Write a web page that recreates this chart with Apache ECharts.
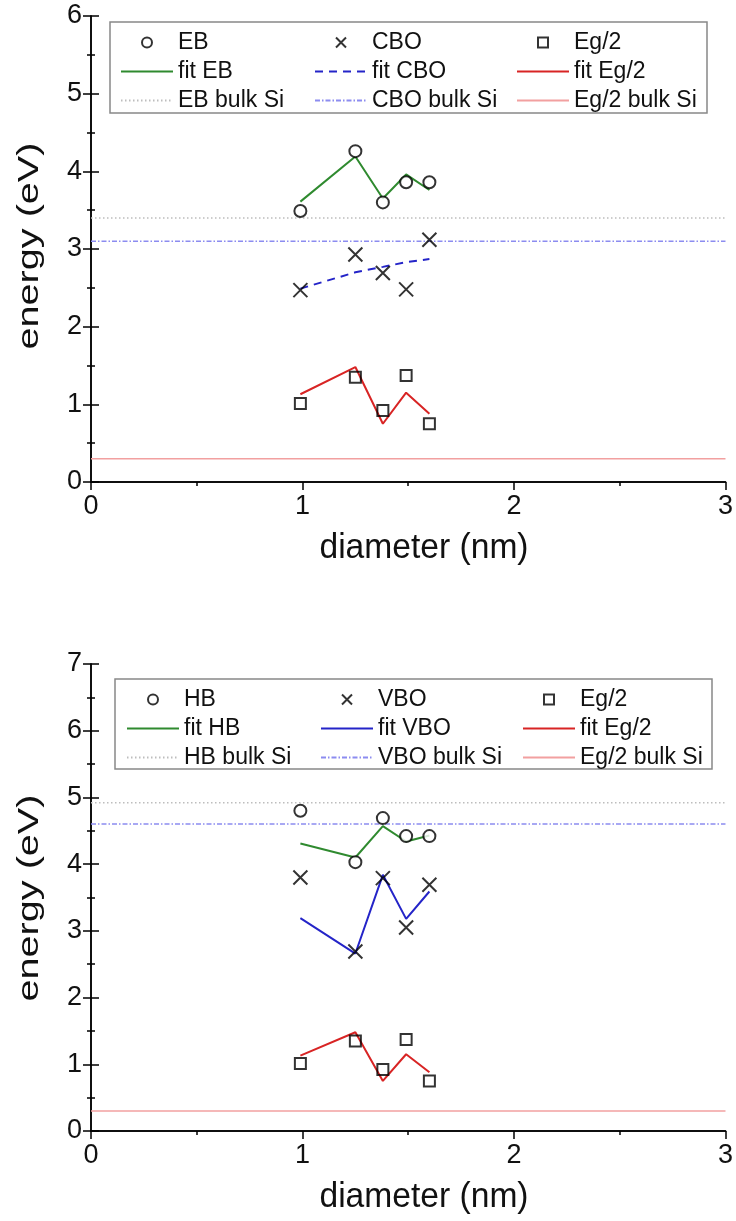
<!DOCTYPE html>
<html>
<head>
<meta charset="utf-8">
<script src="https://cdn.jsdelivr.net/npm/echarts@6/dist/echarts.min.js"></script>
<style>
html,body{margin:0;padding:0;background:#fff;}
#chart{width:736px;height:1221px;}
</style>
</head>
<body>
<div id="chart"></div>
<script>
// ---------- data ----------
const diameter = [0.99, 1.25, 1.38, 1.49, 1.6];
const xRange = [0, 3];

// top panel
const EB      = [3.49, 4.26, 3.60, 3.86, 3.86];
const fitEB   = [3.61, 4.19, 3.65, 3.96, 3.76];
const CBO     = [2.47, 2.93, 2.69, 2.48, 3.12];
const fitCBO  = [2.49, 2.70, 2.77, 2.83, 2.87];
const Eg2     = [1.01, 1.35, 0.92, 1.37, 0.75];
const fitEg2  = [1.13, 1.48, 0.75, 1.15, 0.88];
const bulkEB  = 3.40;
const bulkCBO = 3.10;
const bulkEg2 = 0.30;

// bottom panel
const HB      = [4.80, 4.03, 4.69, 4.42, 4.42];
const fitHB   = [4.31, 4.10, 4.57, 4.34, 4.43];
const VBO     = [3.80, 2.69, 3.79, 3.05, 3.69];
const fitVBO  = [3.19, 2.66, 3.84, 3.18, 3.59];
const bulkHB  = 4.92;
const bulkVBO = 4.60;

const xTitle = 'diameter (nm)';
const yTitle = 'energy (eV)';
const topLegendCols = [['EB','fit EB','EB bulk Si'],['CBO','fit CBO','CBO bulk Si'],['Eg/2','fit Eg/2','Eg/2 bulk Si']];
const botLegendCols = [['HB','fit HB','HB bulk Si'],['VBO','fit VBO','VBO bulk Si'],['Eg/2','fit Eg/2','Eg/2 bulk Si']];

// ---------- helpers ----------
const FONT = "'Liberation Sans', Arial, sans-serif";
const pts = (ys) => diameter.map((x, i) => [x, ys[i]]);
const hline = (v) => [[xRange[0], v], [xRange[1], v]];
const CROSS = 'path://M0,0L10,10M0,10L10,0';
const SQUARE = 'path://M0,0L10,0L10,10L0,10Z';
const markerNames = ['EB', 'CBO', 'Eg/2', 'HB', 'VBO'];

function scatter(name, ys, sym, size, xi, yi) {
  return {
    type: 'scatter', name, data: pts(ys), xAxisIndex: xi, yAxisIndex: yi,
    symbol: sym, symbolSize: size, symbolKeepAspect: true,
    itemStyle: sym === 'emptyCircle' ? {color: '#000', borderColor: '#000', borderWidth: 2}
                                     : {color: 'rgba(0,0,0,0)', borderColor: '#000', borderWidth: 2},
    z: 5
  };
}
function line(name, data, color, width, type, xi, yi, z) {
  return {
    type: 'line', name, data, xAxisIndex: xi, yAxisIndex: yi,
    symbol: 'none', lineStyle: {color, width, type}, itemStyle: {color},
    z: z || 3, animation: false
  };
}

function axesFor(gi, ymax) {
  const lineS = {show: true, lineStyle: {color: '#000', width: 1.5}};
  const tickS = (inside) => ({show: true, inside, length: 8, lineStyle: {color: '#000', width: 1.5}});
  const minorS = {show: true, splitNumber: 2, length: 4, lineStyle: {color: '#000', width: 1.5}};
  const xb = {
    type: 'value', gridIndex: gi, position: 'bottom', min: 0, max: 3, interval: 1,
    axisLine: lineS, axisTick: tickS(false), minorTick: minorS,
    axisLabel: {color: '#111', fontSize: 27, fontFamily: FONT, margin: 11},
    splitLine: {show: false}
  };
  const xt = Object.assign({}, xb, {position: 'top', axisLabel: {show: false}, axisTick: tickS(true)});
  const yl = {
    type: 'value', gridIndex: gi, position: 'left', min: 0, max: ymax, interval: 1,
    axisLine: lineS, axisTick: tickS(false), minorTick: minorS,
    axisLabel: {color: '#111', fontSize: 27, fontFamily: FONT, margin: 9},
    splitLine: {show: false}
  };
  const yr = Object.assign({}, yl, {position: 'right', axisLabel: {show: false}});
  return {x: [xb, xt], y: [yl, yr]};
}

const a0 = axesFor(0, 6), a1 = axesFor(1, 7);

function legends(cols, lefts, top) {
  return cols.map((names, c) => ({
    data: names.map(n => markerNames.indexOf(n) >= 0 ? {name: n} : {name: n, itemStyle: {opacity: 0}}),
    orient: 'vertical', left: lefts[c], top: top, padding: 0,
    itemWidth: 52, itemHeight: 10, itemGap: 6,
    textStyle: {fontSize: 23, fontFamily: FONT, color: '#111', lineHeight: 22},
    selectedMode: false
  }));
}

function titleText(x, y, rot, sx, sy) {
  return {type: 'text', x, y, rotation: rot, scaleX: sx, scaleY: sy,
    style: {text: rot ? yTitle : xTitle, font: "30px " + FONT, fill: '#111', textAlign: 'center', textVerticalAlign: 'middle'}};
}

const option = {
  animation: false,
  backgroundColor: '#fff',
  grid: [
    {left: 91, right: 8, top: 16, height: 466},
    {left: 91, right: 8, top: 664, height: 467}
  ],
  xAxis: [a0.x[0], a0.x[1], a1.x[0], a1.x[1]],
  yAxis: [a0.y[0], a0.y[1], a1.y[0], a1.y[1]],
  legend: [].concat(
    legends(topLegendCols, [120, 314, 516], 31),
    legends(botLegendCols, [126, 320, 522], 688)
  ),
  graphic: [
    {type: 'rect', shape: {x: 110, y: 22, width: 597, height: 91}, style: {fill: 'none', stroke: '#888', lineWidth: 1.5}, z: 1},
    {type: 'rect', shape: {x: 115, y: 679, width: 597, height: 90}, style: {fill: 'none', stroke: '#888', lineWidth: 1.5}, z: 1},
    titleText(424, 548, 0, 1.12, 1.15),
    titleText(424, 1197, 0, 1.12, 1.15),
    titleText(30, 246, Math.PI / 2, 1.32, 1.0),
    titleText(30, 898, Math.PI / 2, 1.32, 1.0)
  ],
  series: [
    // top
    line('EB bulk Si', hline(bulkEB), '#bdbdbd', 1.5, [1.5, 2.5], 0, 0, 2),
    line('CBO bulk Si', hline(bulkCBO), '#8c8cf0', 1.5, [5, 2, 1.5, 2], 0, 0, 2),
    line('Eg/2 bulk Si', hline(bulkEg2), '#f2a0a0', 1.5, 'solid', 0, 0, 2),
    line('fit EB', pts(fitEB), '#2f8a2f', 2, 'solid', 0, 0),
    line('fit CBO', pts(fitCBO), '#2424c8', 2, [8, 6], 0, 0),
    line('fit Eg/2', pts(fitEg2), '#d82424', 2, 'solid', 0, 0),
    scatter('EB', EB, 'emptyCircle', 12, 0, 0),
    scatter('CBO', CBO, CROSS, 14, 0, 0),
    scatter('Eg/2', Eg2, SQUARE, 11, 0, 0),
    // bottom
    line('HB bulk Si', hline(bulkHB), '#bdbdbd', 1.5, [1.5, 2.5], 2, 2, 2),
    line('VBO bulk Si', hline(bulkVBO), '#8c8cf0', 1.5, [5, 2, 1.5, 2], 2, 2, 2),
    line('Eg/2 bulk Si', hline(bulkEg2), '#f2a0a0', 1.5, 'solid', 2, 2, 2),
    line('fit HB', pts(fitHB), '#2f8a2f', 2, 'solid', 2, 2),
    line('fit VBO', pts(fitVBO), '#2424c8', 2, 'solid', 2, 2),
    line('fit Eg/2', pts(fitEg2), '#d82424', 2, 'solid', 2, 2),
    scatter('HB', HB, 'emptyCircle', 12, 2, 2),
    scatter('VBO', VBO, CROSS, 14, 2, 2),
    scatter('Eg/2', Eg2, SQUARE, 11, 2, 2)
  ]
};

const chart = echarts.init(document.getElementById('chart'), null, {renderer: 'canvas'});
chart.setOption(option);
</script>
</body>
</html>
